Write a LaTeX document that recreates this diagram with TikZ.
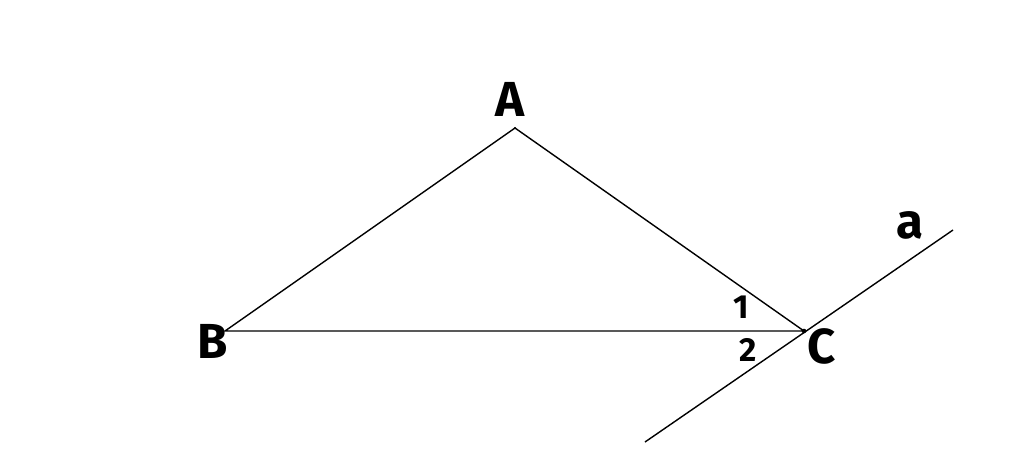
\documentclass[tikz,border=0pt]{standalone}
\usepackage{fontspec}
\setmainfont{Fira Sans}
\begin{document}
\begin{tikzpicture}[x=0.02cm,y=-0.02cm,
  seg/.style={draw=black,line width=0.8pt},
  lbl/.style={font=\fontsize{28}{30}\selectfont\bfseries,inner sep=0pt},
  nlbl/.style={font=\fontsize{19}{21}\selectfont\bfseries,inner sep=0pt}]
\useasboundingbox (0,0) rectangle (1024,468);
\coordinate (A) at (515,128);
\coordinate (B) at (225,331);
\coordinate (C) at (804,331);
\coordinate (a1) at (645,442);
\coordinate (a2) at (953,230);
\draw[seg] (A) -- (B) -- (C) -- cycle;
\draw[seg] (a1) -- (a2);
\fill (C) circle (1.3pt);
\fill (A) circle (0.6pt);
\node[lbl] (lA) at (510,99) {A};
\node[lbl] (lB) at (213,341) {B};
\node[lbl] (lC) at (822,346) {C};
\node[lbl] (la) at (910,225) {a};
\node[nlbl] (l1) at (741,307) {1};
\node[nlbl] (l2) at (748,350) {2};
\end{tikzpicture}
\end{document}
